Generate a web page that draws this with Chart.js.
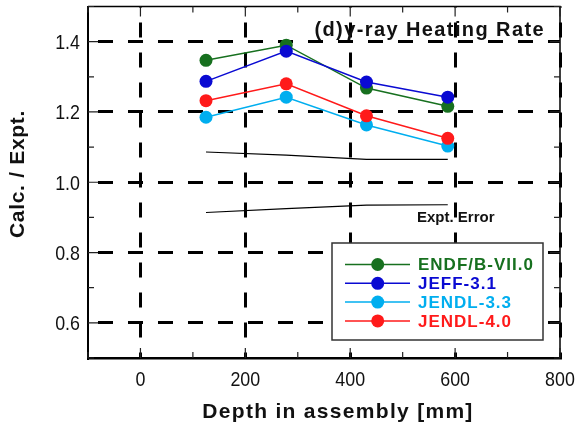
<!DOCTYPE html>
<html>
<head>
<meta charset="utf-8">
<script src="https://cdn.jsdelivr.net/npm/chart.js@4.4.1/dist/chart.umd.min.js"></script>
<style>
  html, body { margin: 0; padding: 0; background: #fff; }
  #wrap { width: 577px; height: 428px; position: relative; }
</style>
</head>
<body>
<div id="wrap"><canvas id="chart"></canvas></div>
<script>
// depth of each measurement position [mm]
const depths = [125, 278, 431, 586];

// C/E values per library
const endfB70 = [1.347, 1.390, 1.268, 1.216];
const jeff31 = [1.287, 1.373, 1.285, 1.242];
const jendl33 = [1.185, 1.242, 1.163, 1.103];
const jendl40 = [1.232, 1.280, 1.189, 1.125];

// experimental error band
const errUpper = [1.086, 1.077, 1.065, 1.065];
const errLower = [0.914, 0.925, 0.935, 0.936];

const seriesNames = ['ENDF/B-VII.0', 'JEFF-3.1', 'JENDL-3.3', 'JENDL-4.0'];
const seriesColors = ['#17701f', '#0a0ad2', '#00aeef', '#ff1a1a'];

const xTickLabels = [0, 200, 400, 600, 800];
const yTickLabels = [0.6, 0.8, 1.0, 1.2, 1.4];

const titleText = '(d)\u03b3-ray Heating Rate';
const errText = 'Expt. Error';
const xTitle = 'Depth in assembly [mm]';
const yTitle = 'Calc. / Expt.';

const pts = vals => depths.map((d, i) => ({ x: d, y: vals[i] }));
const isYMajor = v => yTickLabels.some(t => Math.abs(t - v) < 1e-6);

const series = [endfB70, jeff31, jendl33, jendl40];

const datasets = series.map((vals, i) => ({
    label: seriesNames[i],
    data: pts(vals),
    borderColor: seriesColors[i],
    backgroundColor: seriesColors[i],
    borderWidth: 1.5,
    pointRadius: 6.5,
    pointBorderWidth: 0,
    tension: 0,
    order: 4 - i
}));

[errUpper, errLower].forEach(vals => {
    datasets.push({
        label: '',
        data: pts(vals),
        borderColor: '#000',
        borderWidth: 1.2,
        pointRadius: 0,
        tension: 0,
        order: 10
    });
});

const FONT = '"Liberation Sans", Arial, sans-serif';

function spacedText(ctx, text, x, y, font, color, spacing, align, baseline) {
    ctx.save();
    ctx.font = font;
    ctx.fillStyle = color;
    ctx.letterSpacing = spacing + 'px';
    ctx.textAlign = align || 'left';
    ctx.textBaseline = baseline || 'middle';
    ctx.fillText(text, x, y);
    ctx.restore();
}

// narrow tick numbers, squeezed horizontally like the original
function narrowText(ctx, text, x, y, align) {
    ctx.save();
    ctx.translate(x, y);
    ctx.scale(0.85, 1);
    ctx.font = '21px ' + FONT;
    ctx.fillStyle = '#111';
    ctx.textAlign = align;
    ctx.textBaseline = 'alphabetic';
    ctx.fillText(text, 0, 0);
    ctx.restore();
}

// frame on top/right, inward ticks on all four sides, tick labels
const framePlugin = {
    id: 'frame',
    afterDraw(chart) {
        const { ctx, chartArea: a, scales: { x, y } } = chart;
        ctx.save();
        ctx.strokeStyle = '#000';
        ctx.lineWidth = 1.5;
        ctx.beginPath();
        ctx.moveTo(a.left, a.top);
        ctx.lineTo(a.right, a.top);
        ctx.lineTo(a.right, a.bottom);
        ctx.stroke();

        ctx.lineWidth = 1.2;
        ctx.strokeStyle = '#222';
        ctx.beginPath();
        x.ticks.forEach(t => {
            const px = x.getPixelForValue(t.value);
            const len = xTickLabels.includes(t.value) ? 10 : 6;
            ctx.moveTo(px, a.top); ctx.lineTo(px, a.top + len);
            ctx.moveTo(px, a.bottom); ctx.lineTo(px, a.bottom - len);
        });
        y.ticks.forEach(t => {
            const py = y.getPixelForValue(t.value);
            const len = isYMajor(t.value) ? 10 : 6;
            ctx.moveTo(a.left, py); ctx.lineTo(a.left + len, py);
            ctx.moveTo(a.right, py); ctx.lineTo(a.right - len, py);
        });
        ctx.stroke();
        ctx.restore();

        x.ticks.forEach(t => {
            if (!xTickLabels.includes(t.value)) return;
            narrowText(ctx, String(t.value), x.getPixelForValue(t.value), a.bottom + 28, 'center');
        });
        y.ticks.forEach(t => {
            if (!isYMajor(t.value)) return;
            narrowText(ctx, t.value.toFixed(1), a.left - 8, y.getPixelForValue(t.value) + 7.5, 'right');
        });
    }
};

// legend box inside the plot, line + marker + coloured label
const legendPlugin = {
    id: 'boxLegend',
    afterDraw(chart) {
        const ctx = chart.ctx;
        const box = { x: 332, y: 243, w: 211, h: 97 };
        ctx.save();
        ctx.fillStyle = '#fff';
        ctx.fillRect(box.x, box.y, box.w, box.h);
        ctx.strokeStyle = '#333';
        ctx.lineWidth = 1.5;
        ctx.strokeRect(box.x, box.y, box.w, box.h);

        seriesNames.forEach((name, i) => {
            const ds = chart.data.datasets.find(d => d.label === name);
            const ry = 264.5 + i * 18.8;
            ctx.strokeStyle = ds.borderColor;
            ctx.lineWidth = 1.5;
            ctx.beginPath();
            ctx.moveTo(345, ry);
            ctx.lineTo(410, ry);
            ctx.stroke();
            ctx.fillStyle = ds.backgroundColor;
            ctx.beginPath();
            ctx.arc(377.7, ry, 6.5, 0, Math.PI * 2);
            ctx.fill();
            spacedText(ctx, name, 418, ry + 1, 'bold 17px ' + FONT, ds.borderColor, 1);
        });
        ctx.restore();
    }
};

// panel title, error-band note and axis titles
const textPlugin = {
    id: 'texts',
    afterDraw(chart) {
        const ctx = chart.ctx;
        spacedText(ctx, titleText, 545, 30, 'bold 20px ' + FONT, '#111', 1.4, 'right');
        spacedText(ctx, errText, 417, 218, 'bold 15px ' + FONT, '#111', 0);
        spacedText(ctx, xTitle, 338, 412, 'bold 21px ' + FONT, '#111', 1.3, 'center');
        ctx.save();
        ctx.translate(18, 174);
        ctx.rotate(-Math.PI / 2);
        spacedText(ctx, yTitle, 0, 0, 'bold 21px ' + FONT, '#111', 0.7, 'center');
        ctx.restore();
    }
};

new Chart(document.getElementById('chart'), {
    type: 'line',
    data: { datasets },
    options: {
        responsive: true,
        maintainAspectRatio: false,
        animation: false,
        layout: { padding: { left: 0, right: 17, top: 6, bottom: 0 } },
        plugins: {
            legend: { display: false },
            tooltip: { enabled: false }
        },
        scales: {
            x: {
                type: 'linear',
                min: -100,
                max: 800,
                afterFit: s => { s.height = 70; s.paddingLeft = 0; s.paddingRight = 0; },
                ticks: { stepSize: 100, display: false },
                grid: {
                    drawTicks: false,
                    lineWidth: 3,
                    color: c => c.tick && xTickLabels.includes(c.tick.value) ? '#000' : 'rgba(0,0,0,0)'
                },
                border: { display: true, color: '#000', width: 2.5, dash: [15, 15], dashOffset: 14 }
            },
            y: {
                type: 'linear',
                min: 0.5,
                max: 1.5,
                afterFit: s => { s.width = 88; s.paddingTop = 0; s.paddingBottom = 0; },
                ticks: { stepSize: 0.1, display: false },
                grid: {
                    drawTicks: false,
                    lineWidth: 3,
                    color: c => c.tick && isYMajor(c.tick.value) ? '#000' : 'rgba(0,0,0,0)'
                },
                border: { display: true, color: '#000', width: 2, dash: [15, 15], dashOffset: 21 }
            }
        }
    },
    plugins: [framePlugin, legendPlugin, textPlugin]
});
</script>
</body>
</html>
